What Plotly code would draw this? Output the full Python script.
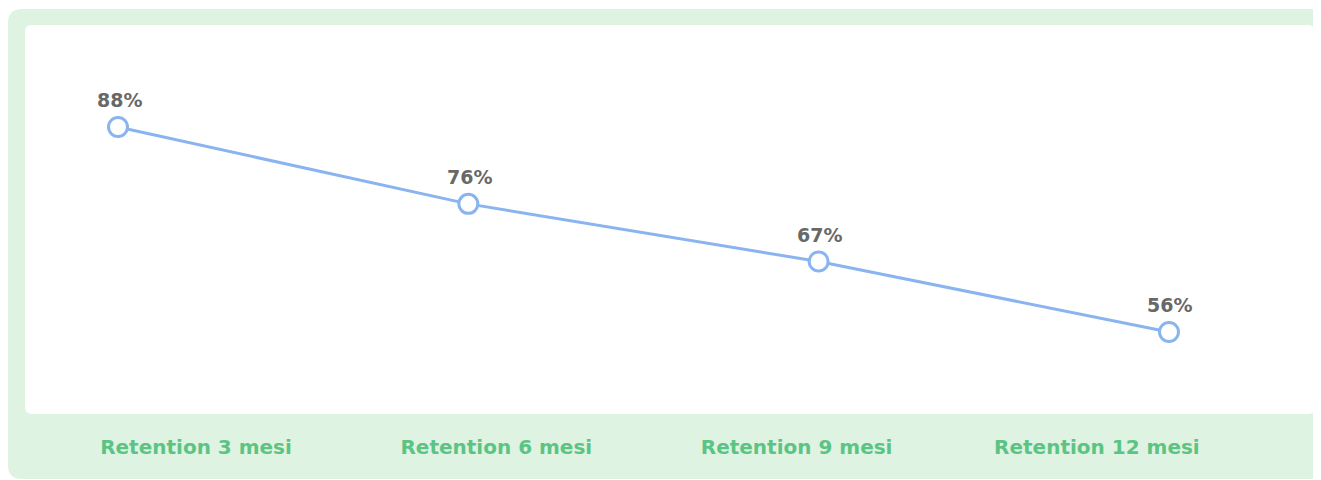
import plotly.graph_objects as go

categories = ["Retention 3 mesi", "Retention 6 mesi", "Retention 9 mesi", "Retention 12 mesi"]
values = [88, 76, 67, 56]
value_labels = ["88%", "76%", "67%", "56%"]

W, H = 1321, 480
O = 8  # page body margin offset

def px_x(x):
    return (x - O) / W

def px_y(y):
    return 1 - (y - O) / H

def rounded_rect(x0, y0, x1, y1, r):
    p = f"M {px_x(x0 + r)},{px_y(y0)} L {px_x(x1 - r)},{px_y(y0)} "
    p += f"Q {px_x(x1)},{px_y(y0)} {px_x(x1)},{px_y(y0 + r)} "
    p += f"L {px_x(x1)},{px_y(y1 - r)} Q {px_x(x1)},{px_y(y1)} {px_x(x1 - r)},{px_y(y1)} "
    p += f"L {px_x(x0 + r)},{px_y(y1)} Q {px_x(x0)},{px_y(y1)} {px_x(x0)},{px_y(y1 - r)} "
    p += f"L {px_x(x0)},{px_y(y0 + r)} Q {px_x(x0)},{px_y(y0)} {px_x(x0 + r)},{px_y(y0)} Z"
    return p

idx = list(range(len(categories)))

# pixel geometry (page coords) of the data area
x_first, x_step = 118 - O, 350.33
y_at88, y_per = 127 - O, 6.406
lab_first, lab_step = 196 - O, 300.3

fig = go.Figure()
fig.add_trace(go.Scatter(
    x=idx, y=values, mode="lines+markers",
    line=dict(color="#8AB4EF", width=3),
    marker=dict(size=19, color="white", line=dict(color="#8AB4EF", width=3)),
    hoverinfo="skip", cliponaxis=False, showlegend=False,
))
fig.add_trace(go.Scatter(
    x=idx, y=[None] * len(idx), xaxis="x2", mode="markers",
    showlegend=False, hoverinfo="skip",
))

annotations = [
    dict(x=i, y=v, xref="x", yref="y", text=t, showarrow=False,
         yshift=27, xshift=1,
         font=dict(family="DejaVu Sans", size=19, color="#686868", weight=600))
    for i, v, t in zip(idx, values, value_labels)
]

fig.update_layout(
    width=W, height=H,
    margin=dict(l=0, r=0, t=0, b=0),
    paper_bgcolor="white", plot_bgcolor="rgba(0,0,0,0)",
    xaxis=dict(range=[-x_first / x_step, 3 + (W - (x_first + 3 * x_step)) / x_step],
               visible=False, fixedrange=True),
    xaxis2=dict(range=[-lab_first / lab_step, 3 + (W - (lab_first + 3 * lab_step)) / lab_step],
                overlaying="x", anchor="free", position=1 - (433 - O) / H, side="bottom",
                tickmode="array", tickvals=idx, ticktext=categories,
                showline=False, showgrid=False, zeroline=False, ticks="",
                tickfont=dict(family="DejaVu Sans", size=20, color="#5CC483", weight="bold")),
    yaxis=dict(range=[88 - (H - y_at88) / y_per, 88 + y_at88 / y_per], visible=False, fixedrange=True),
    annotations=annotations,
    shapes=[
        dict(type="path", xref="paper", yref="paper", layer="below",
             path=rounded_rect(8, 9, 1340, 479, 14),
             fillcolor="#DFF3E3", line=dict(width=0)),
        dict(type="path", xref="paper", yref="paper", layer="below",
             path=rounded_rect(25, 25, 1315, 414, 7),
             fillcolor="white", line=dict(width=0)),
    ],
)

fig.write_html("out.html")
